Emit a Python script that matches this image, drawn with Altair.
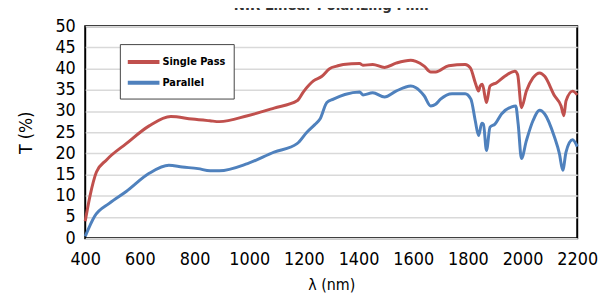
import altair as alt
import pandas as pd

title_text = "NIR Linear Polarizing Film"
series_names = ["Single Pass", "Parallel"]
series_colors = ["#c0504d", "#4f81bd"]

red_nm = [400, 417, 441, 477, 550, 634, 713, 791, 856, 891, 994, 1091, 1175, 1199, 1235,
          1266, 1294, 1320, 1344, 1404, 1416, 1452, 1495, 1537, 1591, 1610, 1640, 1664,
          1682, 1730, 1790, 1809, 1827, 1839, 1845, 1853, 1868, 1881, 1905, 1935, 1972,
          1982, 1996, 2014, 2038, 2063, 2081, 2117, 2141, 2151, 2159, 2183, 2200]
red_T = [4.0, 9.8, 15.6, 18.4, 22.3, 26.5, 28.7, 28.1, 27.7, 27.5, 28.9, 30.7, 32.4, 34.6, 37.1,
         38.2, 40.0, 40.6, 41.0, 41.2, 40.8, 41.0, 40.3, 41.3, 42.0, 41.7, 40.6, 39.2,
         39.2, 40.7, 41.0, 40.2, 36.7, 34.7, 35.9, 36.3, 32.0, 35.9, 36.7, 38.2, 39.4,
         38.6, 30.8, 34.7, 37.8, 39.0, 38.2, 33.6, 31.2, 28.9, 32.4, 34.7, 33.8]

blue_nm = [400, 434, 488, 550, 634, 706, 755, 813, 857, 891, 994, 1091, 1175, 1211, 1240,
           1259, 1284, 1308, 1350, 1404, 1416, 1452, 1495, 1537, 1591, 1610, 1640, 1664,
           1682, 1700, 1742, 1790, 1811, 1827, 1839, 1851, 1857, 1868, 1881, 1899, 1923,
           1960, 1975, 1984, 1996, 2014, 2038, 2063, 2081, 2117, 2135, 2147, 2159, 2183, 2200]
blue_T = [0.4, 5.1, 8.2, 11.0, 15.3, 17.2, 16.8, 16.4, 15.9, 15.9, 17.6, 20.3, 22.3, 25.0, 26.8,
          28.1, 32.0, 32.8, 33.9, 34.5, 33.8, 34.3, 33.3, 34.7, 35.9, 35.5, 33.6, 31.2,
          31.6, 32.8, 34.1, 34.1, 32.8, 27.7, 24.2, 27.1, 26.9, 20.7, 26.2, 26.9, 29.3,
          31.0, 31.2, 26.9, 18.8, 23.0, 27.7, 30.2, 29.3, 23.8, 19.9, 16.0, 20.3, 23.2, 21.6]

x_ticks = list(range(400, 2201, 200))
y_ticks = list(range(0, 51, 5))

df = pd.concat([
    pd.DataFrame({"nm": red_nm, "T": red_T, "series": series_names[0], "o": range(len(red_nm))}),
    pd.DataFrame({"nm": blue_nm, "T": blue_T, "series": series_names[1], "o": range(len(blue_nm))}),
])

FONT = "'DejaVu Sans Condensed', 'Liberation Sans Narrow', 'Liberation Sans', sans-serif"

chart = alt.Chart(df).mark_line(strokeWidth=3, interpolate="monotone").encode(
    x=alt.X("nm:Q", scale=alt.Scale(domain=[400, 2200], nice=False),
            axis=alt.Axis(values=x_ticks, format="d", title="λ (nm)", grid=False, ticks=False,
                          domain=False, labelFontSize=18, labelPadding=13, titleFontSize=16,
                          titleFontWeight="normal", titlePadding=8, labelFlush=False)),
    y=alt.Y("T:Q", scale=alt.Scale(domain=[0, 50], nice=False),
            axis=alt.Axis(values=y_ticks, format="d", title="T (%)", grid=True, ticks=False,
                          domain=False, labelFontSize=18, labelPadding=10, titleFontSize=18,
                          titleFontWeight="normal", titlePadding=20, labelFlush=False,
                          labelOverlap=False)),
    color=alt.Color("series:N", scale=alt.Scale(domain=series_names, range=series_colors),
                    legend=alt.Legend(title=None, orient="none", legendX=35, legendY=18,
                                      symbolType="M-2,0H2", symbolSize=256,
                                      symbolStrokeWidth=4, symbolOffset=6,
                                      labelFontSize=11, labelFontWeight="bold", labelFont=FONT,
                                      strokeColor="#444444", fillColor="white",
                                      padding=8, rowPadding=3, labelOffset=9)),
    order="o:Q",
).properties(
    width=497, height=214,
    title=alt.TitleParams(title_text, fontSize=15, fontWeight="bold", color="#333333",
                          offset=0, dy=-4, anchor="middle", font=FONT),
    autosize=alt.AutoSizeParams(type="none"),
    padding={"left": 78, "top": 17, "right": 22, "bottom": 60},
).configure_view(
    stroke="black", strokeWidth=2
).configure_axis(
    labelFont=FONT, titleFont=FONT, labelColor="black", titleColor="black",
    gridColor="#d9d9d9", gridWidth=1.5
)

chart.save("out.html", embed_options={"renderer": "svg", "actions": False})
